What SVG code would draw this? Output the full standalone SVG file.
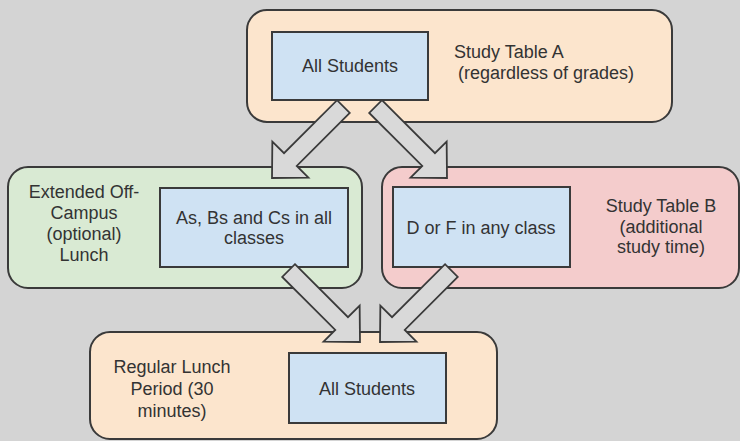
<svg xmlns="http://www.w3.org/2000/svg" width="740" height="441" viewBox="0 0 740 441">
<defs>
<style>
.cont{stroke:#3a3a3a;stroke-width:2}
.box{fill:#cfe2f3;stroke:#3a3a3a;stroke-width:2}
.peach{fill:#fce5cd}
.green{fill:#d9ead3}
.pink{fill:#f4cccc}
text{font-family:"Liberation Sans",Arial,sans-serif;font-size:18px;fill:#333333}
.c{text-anchor:middle}
.arrow{fill:#d9d9d9;stroke:#3a3a3a;stroke-width:1.8;stroke-linejoin:miter}
</style>
<path id="arr" d="M0,-9 L75,-9 L75,-25.5 L101,0 L75,25.5 L75,9 L0,9 Z"/>
</defs>
<rect width="740" height="441" fill="#d4d4d4"/>
<g id="studyA">
<rect class="cont peach" x="247" y="10" width="425" height="112" rx="20"/>
<rect class="box" x="272" y="32" width="156" height="68"/>
<text class="c" x="350" y="72">All Students</text>
<text x="454" y="58">Study Table A</text>
<text x="458" y="79">(regardless of grades)</text>
</g>
<g id="offcampus">
<rect class="cont green" x="8" y="167" width="354" height="121" rx="20"/>
<rect class="box" x="160" y="188" width="188" height="79"/>
<text class="c" x="254" y="224">As, Bs and Cs in all</text>
<text class="c" x="254" y="244">classes</text>
<text class="c" x="84" y="198">Extended Off-</text>
<text class="c" x="84" y="219">Campus</text>
<text class="c" x="84" y="240">(optional)</text>
<text class="c" x="84" y="261">Lunch</text>
</g>
<g id="studyB">
<rect class="cont pink" x="382" y="167" width="357" height="121" rx="20"/>
<rect class="box" x="393" y="187" width="177" height="80"/>
<text class="c" x="481" y="234">D or F in any class</text>
<text class="c" x="661" y="212">Study Table B</text>
<text class="c" x="661" y="233">(additional</text>
<text class="c" x="661" y="253">study time)</text>
</g>
<g id="regular">
<rect class="cont peach" x="90" y="332" width="407" height="107" rx="20"/>
<rect class="box" x="289" y="353" width="157" height="70"/>
<text class="c" x="367" y="395">All Students</text>
<text class="c" x="172" y="373">Regular Lunch</text>
<text class="c" x="172" y="395">Period (30</text>
<text class="c" x="172" y="417">minutes)</text>
</g>
<g id="connectors">
<use href="#arr" class="arrow" transform="translate(272,178) rotate(135) translate(-101,0)"/>
<use href="#arr" class="arrow" transform="translate(447,178) rotate(45) translate(-101,0)"/>
<use href="#arr" class="arrow" transform="translate(360,342) rotate(45) translate(-101,0)"/>
<use href="#arr" class="arrow" transform="translate(380,342) rotate(135) translate(-101,0)"/>
</g>
</svg>
